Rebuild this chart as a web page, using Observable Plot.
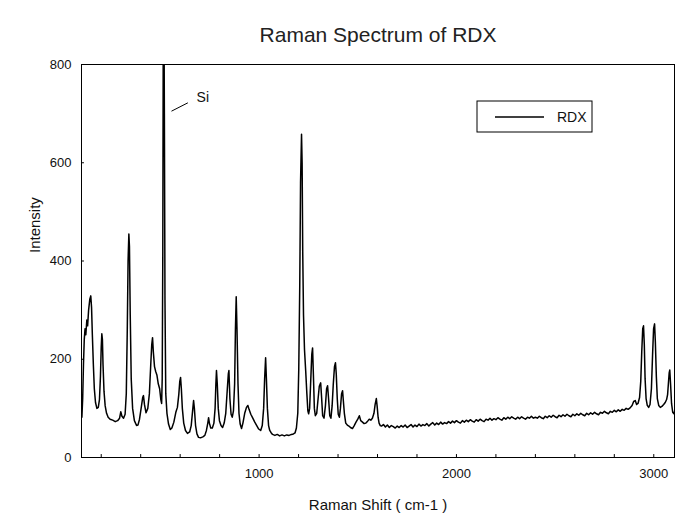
<!DOCTYPE html>
<html><head><meta charset="utf-8">
<script src="https://cdn.jsdelivr.net/npm/d3@7"></script>
<script src="https://cdn.jsdelivr.net/npm/@observablehq/plot@0.6"></script>
<style>body{margin:0;background:#fff} svg{display:block}</style>
</head><body><div id="chart"></div>
<script>
const chartTitle = "Raman Spectrum of RDX";
const xLabel = "Raman Shift ( cm-1 )";
const yLabel = "Intensity";
const seriesName = "RDX";
const xTicks = [1000, 2000, 3000];
const yTicks = [0, 200, 400, 600, 800];
const xMinorTicks = [200,400,600,800,1000,1200,1400,1600,1800,2000,2200,2400,2600,2800,3000];
const yMinorTicks = [200, 400, 600];
const siLabel = [{label: "Si", x: 683, y: 732}];
const siLeader = [{x1: 556, y1: 705, x2: 639, y2: 722}];

// [Raman shift (cm-1), intensity]
const rdxSpectrum = [
[102,82],[106,120],[110,190],[114,240],[118,262],[122,250],[127,280],[131,268],[136,300],[142,322],[147,329],[151,305],[155,250],[160,190],[165,140],[171,112],[178,100],[185,102],[191,118],[196,165],[200,225],[203,252],[206,240],[209,190],[214,135],[220,105],[227,90],[235,82],[245,78],[258,76],[271,73],[283,75],[293,80],[299,93],[305,84],[313,80],[321,88],[327,130],[332,260],[336,400],[340,455],[343,430],[347,290],[352,160],[359,100],[368,75],[379,65],[386,66],[394,78],[404,105],[410,122],[414,126],[419,108],[427,91],[436,100],[444,130],[451,190],[456,230],[460,244],[464,215],[470,185],[476,175],[482,168],[489,150],[496,140],[502,118],[506,110],[509,160],[512,420],[514,800],[516,900],[518,900],[520,700],[523,320],[527,130],[533,90],[541,68],[550,57],[558,60],[568,72],[578,92],[586,102],[593,128],[598,155],[602,163],[606,140],[611,100],[618,70],[627,55],[637,49],[648,52],[656,65],[663,95],[668,116],[672,100],[678,65],[685,48],[693,41],[703,40],[715,42],[725,45],[733,55],[740,70],[744,81],[748,70],[755,60],[763,60],[771,70],[777,100],[781,150],[784,177],[788,150],[793,100],[799,75],[807,65],[815,61],[823,70],[831,90],[839,140],[844,170],[847,177],[852,120],[858,88],[864,82],[870,95],[876,150],[880,260],[884,327],[888,260],[893,150],[898,90],[904,68],[911,59],[918,70],[927,90],[936,102],[943,106],[949,98],[958,88],[968,80],[978,72],[988,65],[998,58],[1008,55],[1016,65],[1023,100],[1028,160],[1033,203],[1037,160],[1042,100],[1048,65],[1054,55],[1060,51],[1068,47],[1080,45],[1092,47],[1104,44],[1116,46],[1128,44],[1140,46],[1152,45],[1164,47],[1174,48],[1182,50],[1189,60],[1196,90],[1201,180],[1206,350],[1210,560],[1215,658],[1218,600],[1221,420],[1225,290],[1230,220],[1236,177],[1242,130],[1247,95],[1251,89],[1256,100],[1262,160],[1267,210],[1271,223],[1275,170],[1280,100],[1285,85],[1292,90],[1299,120],[1305,145],[1312,152],[1317,120],[1322,85],[1329,80],[1336,105],[1342,140],[1347,146],[1352,120],[1358,85],[1364,80],[1370,105],[1376,150],[1382,185],[1387,193],[1391,170],[1396,120],[1401,88],[1407,82],[1412,100],[1418,130],[1423,136],[1427,115],[1432,90],[1439,70],[1447,66],[1455,64],[1463,61],[1473,59],[1482,65],[1491,72],[1500,78],[1508,85],[1515,75],[1524,72],[1532,69],[1541,70],[1550,74],[1558,78],[1566,76],[1574,80],[1582,90],[1588,108],[1594,120],[1598,105],[1603,82],[1608,70],[1614,65],
[1620,64],[1630,67],[1640,62],[1650,66],[1660,61],[1670,65],[1680,63],[1690,60],[1700,64],[1710,61],[1720,65],[1730,62],[1740,66],[1750,61],[1760,64],[1770,67],[1780,62],[1790,66],[1800,63],[1810,68],[1820,64],[1830,67],[1840,65],[1850,69],[1860,64],[1870,68],[1880,71],[1890,66],[1900,70],[1910,67],[1920,72],[1930,68],[1940,71],[1950,69],[1960,73],[1970,70],[1980,74],[1990,71],[2000,75],[2010,72],[2020,70],[2030,75],[2040,72],[2050,76],[2060,73],[2070,77],[2080,74],[2090,72],[2100,77],[2110,74],[2120,78],[2130,75],[2140,73],[2150,78],[2160,76],[2170,80],[2180,76],[2190,79],[2200,77],[2210,81],[2220,78],[2230,76],[2240,81],[2250,78],[2260,82],[2270,79],[2280,83],[2290,80],[2300,78],[2310,82],[2320,79],[2330,83],[2340,80],[2350,78],[2360,82],[2370,80],[2380,84],[2390,80],[2400,82],[2410,80],[2420,84],[2430,81],[2440,79],[2450,84],[2460,81],[2470,85],[2480,82],[2490,86],[2500,83],[2510,81],[2520,86],[2530,83],[2540,87],[2550,84],[2560,88],[2570,85],[2580,83],[2590,88],[2600,85],[2610,89],[2620,86],[2630,90],[2640,87],[2650,85],[2660,90],[2670,87],[2680,91],[2690,88],[2700,92],[2710,89],[2720,87],[2730,92],[2740,90],[2750,94],[2760,91],[2770,89],[2780,94],[2790,92],[2800,96],[2810,93],[2820,97],[2830,94],[2840,98],[2850,96],[2860,100],[2870,98],
[2880,101],[2890,106],[2898,114],[2906,116],[2913,108],[2920,110],[2928,122],[2934,155],[2939,215],[2944,262],[2948,268],[2952,230],[2956,160],[2961,120],[2967,106],[2974,102],[2981,108],[2988,140],[2994,210],[2999,262],[3004,272],[3008,235],[3013,165],[3018,120],[3025,106],[3033,102],[3041,104],[3050,108],[3058,112],[3065,118],[3070,128],[3074,150],[3078,172],[3081,178],[3085,150],[3090,110],[3096,92],[3102,89],[3106,95]
];

const data = rdxSpectrum.map(([x, y]) => ({x, y}));
const font = "'Liberation Sans', Arial, sans-serif";

const plot = Plot.plot({
  width: 676, height: 520,
  marginLeft: 81, marginRight: 2, marginTop: 64, marginBottom: 63,
  style: {fontFamily: font, fontSize: "13px", color: "#111", background: "white"},
  x: {domain: [100, 3105]},
  y: {domain: [0, 800]},
  marks: [
    Plot.axisX({ticks: xTicks, tickSize: 0, tickPadding: 11, label: null, fontSize: 13, tickFormat: d => String(d)}),
    Plot.axisY({ticks: yTicks, tickSize: 0, tickPadding: 10, label: null, fontSize: 13, tickFormat: d => String(d)}),
    Plot.ruleX(xMinorTicks, {x: d => d, y1: 0, y2: 6, stroke: "#000", strokeWidth: 1}),
    Plot.ruleY(yMinorTicks, {y: d => d, x1: 100, x2: 115, stroke: "#000", strokeWidth: 1}),
    Plot.line(data, {x: "x", y: "y", stroke: "#000", strokeWidth: 1.5, clip: true}),
    Plot.frame({stroke: "#000", strokeWidth: 1}),
    Plot.link(siLeader, {x1: "x1", y1: "y1", x2: "x2", y2: "y2", stroke: "#000", strokeWidth: 1}),
    Plot.text(siLabel, {x: "x", y: "y", text: "label", textAnchor: "start", fontSize: 14, fill: "#111"}),
    Plot.text([chartTitle], {text: d => d, frameAnchor: "top", dy: -37, fontSize: 21, fill: "#222", letterSpacing: "0.5px"}),
    Plot.text([xLabel], {text: d => d, frameAnchor: "bottom", dy: 52, fontSize: 15, fill: "#111"}),
    Plot.text([yLabel], {text: d => d, frameAnchor: "left", dx: -46, dy: -8, rotate: -90, fontSize: 15, fill: "#111"})
  ]
});

const svg = d3.select(plot);
const g = svg.append("g").attr("font-family", font);
g.append("rect").attr("x", 477).attr("y", 101).attr("width", 115).attr("height", 31)
  .attr("fill", "white").attr("stroke", "#000").attr("stroke-width", 1);
g.append("line").attr("x1", 495).attr("x2", 544).attr("y1", 117).attr("y2", 117)
  .attr("stroke", "#000").attr("stroke-width", 1.3);
g.append("text").attr("x", 557).attr("y", 122).attr("text-anchor", "start")
  .attr("font-size", 14).attr("fill", "#111").text(seriesName);

document.getElementById("chart").appendChild(plot);
</script>
</body></html>
